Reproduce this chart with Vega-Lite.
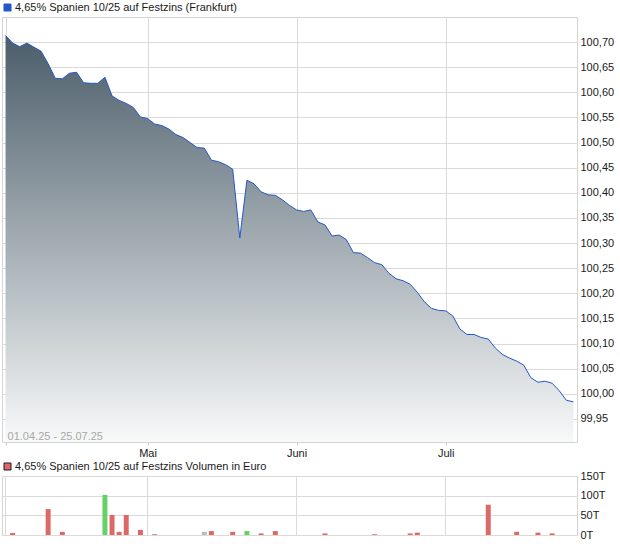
{
  "$schema": "https://vega.github.io/schema/vega-lite/v6.json",
  "padding": {"left": 1, "top": 1, "right": 0, "bottom": 0},
  "spacing": 1,
  "config": {
    "font": "Liberation Sans",
    "view": {"stroke": "#d4d4d4", "strokeWidth": 1},
    "axis": {"gridColor": "#dadada", "gridWidth": 1, "labelFont": "Liberation Sans", "labelFontSize": 11, "labelColor": "#1a1a1a", "domain": false, "title": null, "labelOverlap": false, "labelFlush": false, "labelBound": false, "tickCount": 40},
    "legend": {"padding": 0, "labelFont": "Liberation Sans", "labelFontSize": 11, "labelColor": "#1a1a1a", "labelOffset": 2, "labelLimit": 500, "symbolType": "square", "symbolSize": 49, "title": null}
  },
  "data": {"values": [
    {"d": "2025-04-01", "p": 100.713, "v": 0, "c": "down"},
    {"d": "2025-04-02", "p": 100.698, "v": 5000, "c": "down"},
    {"d": "2025-04-03", "p": 100.691, "v": 0, "c": "down"},
    {"d": "2025-04-04", "p": 100.698, "v": 0, "c": "down"},
    {"d": "2025-04-07", "p": 100.690, "v": 0, "c": "down"},
    {"d": "2025-04-08", "p": 100.682, "v": 0, "c": "down"},
    {"d": "2025-04-09", "p": 100.657, "v": 66000, "c": "down"},
    {"d": "2025-04-10", "p": 100.628, "v": 0, "c": "down"},
    {"d": "2025-04-11", "p": 100.627, "v": 8000, "c": "down"},
    {"d": "2025-04-14", "p": 100.638, "v": 0, "c": "down"},
    {"d": "2025-04-15", "p": 100.640, "v": 0, "c": "down"},
    {"d": "2025-04-16", "p": 100.619, "v": 0, "c": "down"},
    {"d": "2025-04-17", "p": 100.618, "v": 0, "c": "down"},
    {"d": "2025-04-22", "p": 100.618, "v": 0, "c": "down"},
    {"d": "2025-04-23", "p": 100.630, "v": 102000, "c": "up"},
    {"d": "2025-04-24", "p": 100.593, "v": 51000, "c": "down"},
    {"d": "2025-04-25", "p": 100.584, "v": 8000, "c": "down"},
    {"d": "2025-04-28", "p": 100.578, "v": 51000, "c": "down"},
    {"d": "2025-04-29", "p": 100.570, "v": 0, "c": "down"},
    {"d": "2025-04-30", "p": 100.551, "v": 13000, "c": "down"},
    {"d": "2025-05-02", "p": 100.548, "v": 0, "c": "down"},
    {"d": "2025-05-05", "p": 100.537, "v": 2000, "c": "down"},
    {"d": "2025-05-06", "p": 100.534, "v": 0, "c": "down"},
    {"d": "2025-05-07", "p": 100.527, "v": 0, "c": "down"},
    {"d": "2025-05-08", "p": 100.516, "v": 0, "c": "down"},
    {"d": "2025-05-09", "p": 100.510, "v": 0, "c": "down"},
    {"d": "2025-05-12", "p": 100.500, "v": 0, "c": "down"},
    {"d": "2025-05-13", "p": 100.490, "v": 0, "c": "down"},
    {"d": "2025-05-14", "p": 100.489, "v": 8000, "c": "flat"},
    {"d": "2025-05-15", "p": 100.465, "v": 10000, "c": "down"},
    {"d": "2025-05-16", "p": 100.462, "v": 0, "c": "down"},
    {"d": "2025-05-19", "p": 100.456, "v": 0, "c": "down"},
    {"d": "2025-05-20", "p": 100.447, "v": 8000, "c": "down"},
    {"d": "2025-05-21", "p": 100.310, "v": 0, "c": "down"},
    {"d": "2025-05-22", "p": 100.425, "v": 10000, "c": "up"},
    {"d": "2025-05-23", "p": 100.418, "v": 0, "c": "down"},
    {"d": "2025-05-26", "p": 100.402, "v": 4000, "c": "down"},
    {"d": "2025-05-27", "p": 100.396, "v": 0, "c": "down"},
    {"d": "2025-05-28", "p": 100.395, "v": 10000, "c": "down"},
    {"d": "2025-05-29", "p": 100.386, "v": 0, "c": "down"},
    {"d": "2025-05-30", "p": 100.375, "v": 0, "c": "down"},
    {"d": "2025-06-02", "p": 100.366, "v": 0, "c": "down"},
    {"d": "2025-06-03", "p": 100.363, "v": 0, "c": "down"},
    {"d": "2025-06-04", "p": 100.366, "v": 0, "c": "down"},
    {"d": "2025-06-05", "p": 100.342, "v": 0, "c": "down"},
    {"d": "2025-06-06", "p": 100.336, "v": 4000, "c": "down"},
    {"d": "2025-06-09", "p": 100.314, "v": 0, "c": "down"},
    {"d": "2025-06-10", "p": 100.316, "v": 0, "c": "down"},
    {"d": "2025-06-11", "p": 100.307, "v": 0, "c": "down"},
    {"d": "2025-06-12", "p": 100.281, "v": 0, "c": "down"},
    {"d": "2025-06-13", "p": 100.280, "v": 0, "c": "down"},
    {"d": "2025-06-16", "p": 100.271, "v": 0, "c": "down"},
    {"d": "2025-06-17", "p": 100.261, "v": 2000, "c": "down"},
    {"d": "2025-06-18", "p": 100.257, "v": 0, "c": "down"},
    {"d": "2025-06-19", "p": 100.240, "v": 0, "c": "down"},
    {"d": "2025-06-20", "p": 100.229, "v": 0, "c": "down"},
    {"d": "2025-06-23", "p": 100.225, "v": 0, "c": "down"},
    {"d": "2025-06-24", "p": 100.218, "v": 4000, "c": "down"},
    {"d": "2025-06-25", "p": 100.202, "v": 6000, "c": "down"},
    {"d": "2025-06-26", "p": 100.183, "v": 0, "c": "down"},
    {"d": "2025-06-27", "p": 100.170, "v": 0, "c": "down"},
    {"d": "2025-06-30", "p": 100.166, "v": 0, "c": "down"},
    {"d": "2025-07-01", "p": 100.165, "v": 0, "c": "down"},
    {"d": "2025-07-02", "p": 100.155, "v": 0, "c": "down"},
    {"d": "2025-07-03", "p": 100.129, "v": 0, "c": "down"},
    {"d": "2025-07-04", "p": 100.118, "v": 0, "c": "down"},
    {"d": "2025-07-07", "p": 100.118, "v": 0, "c": "down"},
    {"d": "2025-07-08", "p": 100.112, "v": 0, "c": "down"},
    {"d": "2025-07-09", "p": 100.109, "v": 77000, "c": "down"},
    {"d": "2025-07-10", "p": 100.091, "v": 0, "c": "down"},
    {"d": "2025-07-11", "p": 100.078, "v": 0, "c": "down"},
    {"d": "2025-07-14", "p": 100.071, "v": 0, "c": "down"},
    {"d": "2025-07-15", "p": 100.065, "v": 8000, "c": "down"},
    {"d": "2025-07-16", "p": 100.057, "v": 0, "c": "down"},
    {"d": "2025-07-17", "p": 100.032, "v": 0, "c": "down"},
    {"d": "2025-07-18", "p": 100.023, "v": 6000, "c": "down"},
    {"d": "2025-07-21", "p": 100.025, "v": 0, "c": "down"},
    {"d": "2025-07-22", "p": 100.021, "v": 4000, "c": "down"},
    {"d": "2025-07-23", "p": 100.006, "v": 0, "c": "down"},
    {"d": "2025-07-24", "p": 99.987, "v": 0, "c": "down"},
    {"d": "2025-07-25", "p": 99.984, "v": 0, "c": "down"}
  ]},
  "resolve": {"scale": {"color": "independent", "x": "independent"}, "legend": {"color": "independent"}},
  "vconcat": [
    {
      "width": 575,
      "height": 425,
      "layer": [
        {
          "mark": {"type": "area", "fill": {"gradient": "linear", "x1": 0, "y1": 0, "x2": 0, "y2": 1, "stops": [{"offset": 0, "color": "#4b5d6a"}, {"offset": 1, "color": "#f8f9f9"}]}},
          "encoding": {
            "x": {"field": "d", "type": "ordinal", "scale": {"type": "point", "padding": 0.5},
                  "axis": {"values": ["2025-04-01", "2025-05-02", "2025-06-02", "2025-07-01"], "labelExpr": "datum.value == '2025-05-02' ? 'Mai' : datum.value == '2025-06-02' ? 'Juni' : datum.value == '2025-07-01' ? 'Juli' : ''", "labelAngle": 0, "tickSize": 3, "tickColor": "#c8c8c8", "labelPadding": 2, "grid": true}},
            "y": {"field": "p", "type": "quantitative", "scale": {"domain": [99.904, 100.75], "zero": false, "nice": false},
                  "axis": {"orient": "right", "values": [99.95, 100.0, 100.05, 100.1, 100.15, 100.2, 100.25, 100.3, 100.35, 100.4, 100.45, 100.5, 100.55, 100.6, 100.65, 100.7], "tickCount": 40, "labelExpr": "replace(format(datum.value, '.2f'), '.', ',')", "ticks": false, "labelPadding": 3, "grid": true}},
            "y2": {"datum": 99.904}
          }
        },
        {
          "mark": {"type": "line", "strokeWidth": 1},
          "encoding": {
            "x": {"field": "d", "type": "ordinal"},
            "y": {"field": "p", "type": "quantitative"},
            "color": {"datum": "4,65% Spanien 10/25 auf Festzins (Frankfurt)", "scale": {"range": ["#2457c5"]},
                      "legend": {"orient": "none", "legendX": 0, "legendY": -15, "symbolType": "square",
                                 "encode": {"symbols": {"update": {"fill": {"value": "#2457c5"}, "stroke": {"value": "#1a1a2e"}, "strokeWidth": {"value": 1}, "opacity": {"value": 1}}}}}}
          }
        },
        {
          "data": {"values": [{"t": "01.04.25 - 25.07.25"}]},
          "mark": {"type": "text", "align": "left", "baseline": "middle", "dx": 2, "fontSize": 11, "color": "#a8a8a8"},
          "encoding": {
            "x": {"datum": "2025-04-01", "type": "ordinal"},
            "y": {"datum": 99.914, "type": "quantitative"},
            "text": {"field": "t"}
          }
        }
      ]
    },
    {
      "width": 575,
      "height": 59,
      "mark": {"type": "bar"},
      "encoding": {
        "x": {"field": "d", "type": "ordinal", "scale": {"type": "band", "paddingInner": 0.3, "paddingOuter": 0.15},
              "axis": {"values": ["2025-04-01", "2025-05-02", "2025-06-02", "2025-07-01"], "labels": false, "ticks": false, "grid": true, "bandPosition": 0.5}},
        "y": {"field": "v", "type": "quantitative", "scale": {"domain": [0, 150000], "nice": false},
              "axis": {"orient": "right", "values": [0, 50000, 100000, 150000], "tickCount": 10, "labelExpr": "format(datum.value / 1000, 'd') + 'T'", "ticks": false, "labelPadding": 3, "grid": true}},
        "color": {"field": "c", "type": "nominal", "scale": {"domain": ["down", "up", "flat"], "range": ["#dc6868", "#66d266", "#bdbdbd"]},
                  "legend": {"orient": "none", "legendX": 0, "legendY": -15, "values": ["down"], "labelExpr": "'4,65% Spanien 10/25 auf Festzins Volumen in Euro'",
                             "encode": {"symbols": {"update": {"stroke": {"value": "#1a1a2e"}, "strokeWidth": {"value": 1}}}}}}
      }
    }
  ]
}
